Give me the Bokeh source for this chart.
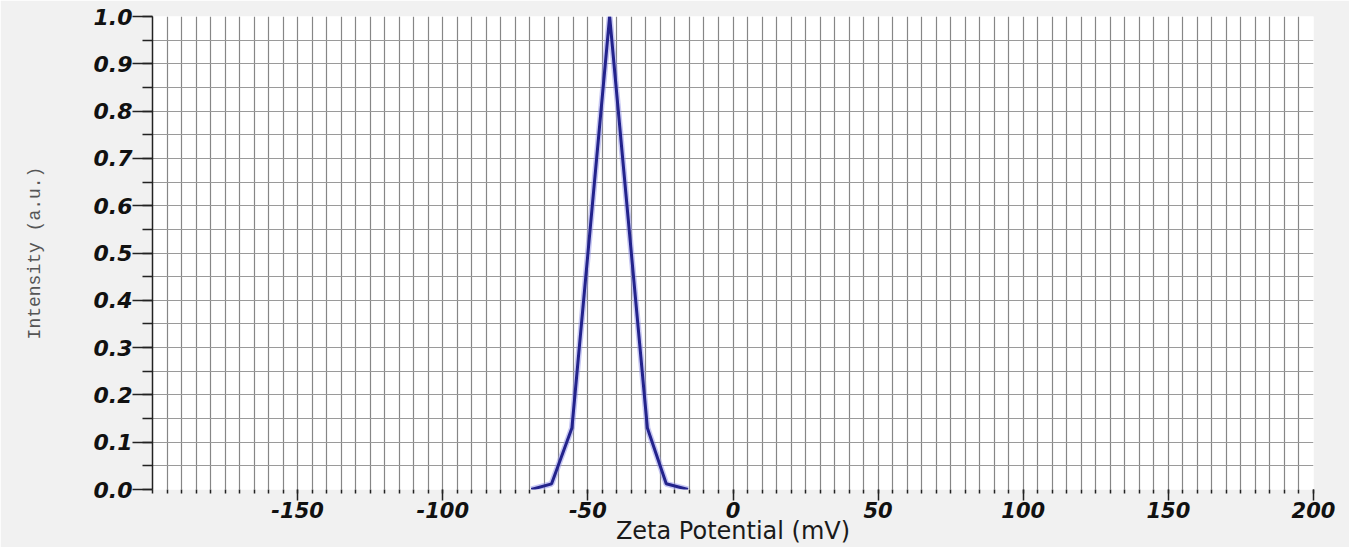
from bokeh.plotting import figure
from bokeh.models import FixedTicker, PrintfTickFormatter, Range1d
from bokeh.embed import file_html
from bokeh.resources import INLINE

# Data
zeta_mv = [-69.5, -62.5, -55.5, -42.5, -29.5, -23.0, -15.5]
intensity = [0.0, 0.012, 0.13, 1.0, 0.13, 0.012, 0.0]

x_major_ticks = [-150, -100, -50, 0, 50, 100, 150, 200]
x_minor_ticks = list(range(-200, 201, 5))
y_major_ticks = [round(0.1 * i, 1) for i in range(11)]
y_minor_ticks = [round(0.05 * i, 2) for i in range(21)]
x_title = "Zeta Potential (mV)"
y_title = "Intensity (a.u.)"

p = figure(width=1349, height=547, output_backend="svg", toolbar_location=None,
           x_range=Range1d(-200, 200), y_range=Range1d(0, 1.0),
           min_border_left=152, min_border_right=36, min_border_top=16, min_border_bottom=56)

p.background_fill_color = "white"
p.border_fill_color = "#f1f1f1"
p.outline_line_color = None

# grid
grid_col = "#868686"
p.xgrid.grid_line_color = grid_col
p.xgrid.grid_line_width = 1.2
p.xgrid.minor_grid_line_color = grid_col
p.xgrid.minor_grid_line_width = 1.2
p.ygrid.grid_line_color = "#9a9a9a"
p.ygrid.grid_line_width = 1
p.ygrid.minor_grid_line_color = "#9a9a9a"
p.ygrid.minor_grid_line_width = 1

p.xaxis.ticker = FixedTicker(ticks=x_major_ticks, minor_ticks=x_minor_ticks)
p.yaxis.ticker = FixedTicker(ticks=y_major_ticks, minor_ticks=y_minor_ticks)
p.xgrid.ticker = FixedTicker(ticks=x_minor_ticks)
p.ygrid.ticker = FixedTicker(ticks=y_minor_ticks)
p.xaxis.formatter = PrintfTickFormatter(format="%d")
p.yaxis.formatter = PrintfTickFormatter(format="%.1f")

tick_font = "DejaVu Sans"
for ax in (p.xaxis, p.yaxis):
    ax.major_label_text_font = tick_font
    ax.major_label_text_font_style = "bold italic"
    ax.major_label_text_font_size = "22px"
    ax.major_label_text_color = "#111111"
    ax.major_tick_line_color = "#222222"
    ax.minor_tick_line_color = "#222222"
    ax.major_tick_line_width = 1.5
    ax.minor_tick_line_width = 1.5
    ax.major_tick_in = 0
    ax.minor_tick_in = 0

p.xaxis.major_label_text_font_size = "21px"
p.xaxis.axis_line_color = None
p.xaxis.major_tick_out = 11
p.xaxis.minor_tick_out = 4
p.xaxis.major_label_standoff = 1
p.xaxis.axis_label = x_title
p.xaxis.axis_label_text_font = "DejaVu Sans"
p.xaxis.axis_label_text_font_style = "normal"
p.xaxis.axis_label_text_font_size = "24px"
p.xaxis.axis_label_text_color = "#1a1a1a"
p.xaxis.axis_label_standoff = -4

p.yaxis.axis_line_color = "#222222"
p.yaxis.axis_line_width = 1.5
p.yaxis.major_tick_out = 20
p.yaxis.minor_tick_out = 10
p.yaxis.major_label_standoff = 0
p.yaxis.axis_label = y_title
p.yaxis.axis_label_text_font = "Liberation Mono"
p.yaxis.axis_label_text_font_style = "normal"
p.yaxis.axis_label_text_font_size = "18px"
p.yaxis.axis_label_text_color = "#555555"
p.yaxis.axis_label_standoff = 46

# glow + line
p.line(zeta_mv, intensity, line_color="#8f8fe8", line_width=6, line_alpha=0.5)
p.line(zeta_mv, intensity, line_color="#23238c", line_width=3)

open("out.html", "w").write(file_html(p, INLINE))
